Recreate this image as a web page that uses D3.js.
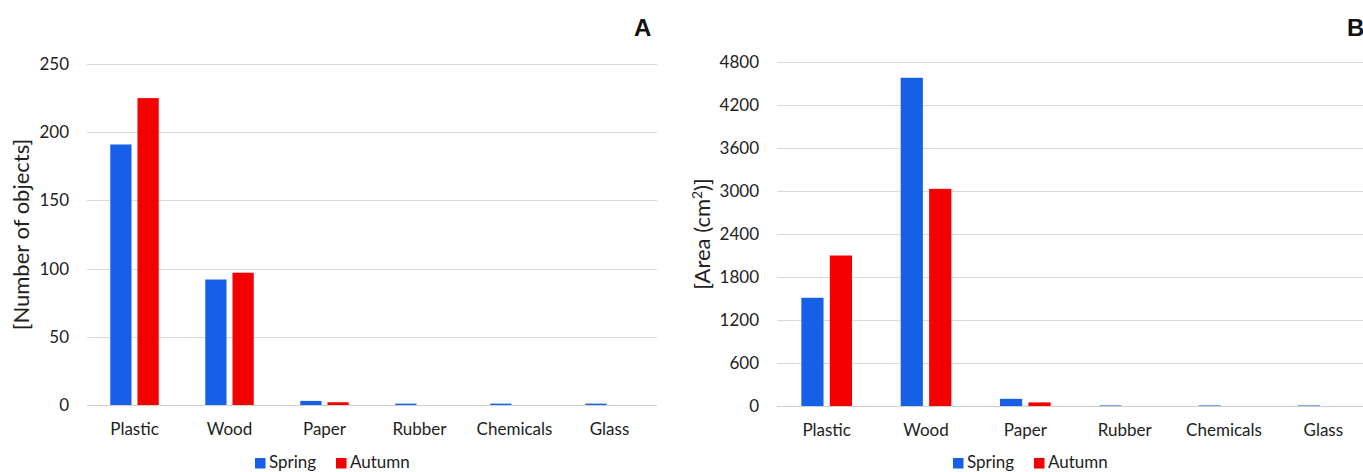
<!DOCTYPE html>
<html>
<head>
<meta charset="utf-8">
<script src="https://cdn.jsdelivr.net/npm/d3@7"></script>
<style>
  html, body { margin: 0; padding: 0; background: #fff; }
  svg { display: block; font-family: Lato, "Open Sans", sans-serif; }
</style>
</head>
<body>
<svg id="chart" width="1363" height="472"></svg>
<script>
// Litter categories and seasonal sampling campaigns
const categories = ["Plastic", "Wood", "Paper", "Rubber", "Chemicals", "Glass"];
const seasons = ["Spring", "Autumn"];
const seasonColors = ["#1560E6", "#F40000"];

// Panel A: number of objects
const countSpring = [191, 92, 3, 1, 1, 1];
const countAutumn = [225, 97, 2, 0, 0, 0];
const countTicks = [0, 50, 100, 150, 200, 250];

// Panel B: area in cm²
const areaSpring = [1510, 4580, 100, 8, 8, 8];
const areaAutumn = [2100, 3030, 50, 0, 0, 0];
const areaTicks = [0, 600, 1200, 1800, 2400, 3000, 3600, 4200, 4800];

const svg = d3.select("#chart");

function panel(opts) {
  const { x0, x1, yTop, yBottom, springVals, autumnVals, ticks, yMax,
          title, titleX, letter, letterX, legendX } = opts;

  const g = svg.append("g");
  const x = d3.scaleBand().domain(categories).range([x0, x1]).paddingInner(0).paddingOuter(0);
  const y = d3.scaleLinear().domain([0, yMax]).range([yBottom, yTop]);

  // horizontal gridlines
  g.append("g").selectAll("line").data(ticks).join("line")
    .attr("x1", x0).attr("x2", x1)
    .attr("y1", d => Math.round(y(d)) + 0.5).attr("y2", d => Math.round(y(d)) + 0.5)
    .attr("stroke", d => d === 0 ? "#cfcfcf" : "#d9d9d9")
    .attr("stroke-width", 1.2);

  // y axis tick labels
  const yAxis = d3.axisLeft(y).tickValues(ticks).tickFormat(d3.format("d"))
    .tickSize(0).tickPadding(0);
  const ya = g.append("g").attr("transform", `translate(${x0 - 18},0)`).call(yAxis);
  ya.select(".domain").remove();
  ya.selectAll("text").attr("font-size", 17).attr("fill", "#222")
    .attr("font-family", "Lato, sans-serif");

  // x axis category labels
  const xAxis = d3.axisBottom(x).tickSize(0).tickPadding(0);
  const xa = g.append("g").attr("transform", `translate(0,${yBottom + 18})`).call(xAxis);
  xa.select(".domain").remove();
  xa.selectAll("text").attr("font-size", 17).attr("fill", "#222")
    .attr("font-family", "Lato, sans-serif");

  // grouped bars
  const bw = x.bandwidth();
  const groupW = bw * 0.51;
  const xs = d3.scaleBand().domain(seasons)
    .range([(bw - groupW) / 2, (bw + groupW) / 2]).paddingInner(0.22);
  const rows = categories.map((c, i) => ({ c, v: [springVals[i], autumnVals[i]] }));
  const groups = g.append("g").selectAll("g").data(rows).join("g")
    .attr("transform", d => `translate(${x(d.c)},0)`);
  groups.selectAll("rect").data(d => d.v.map((v, k) => ({ s: seasons[k], v, k })))
    .join("rect")
    .attr("x", d => xs(d.s))
    .attr("width", xs.bandwidth())
    .attr("y", d => y(d.v))
    .attr("height", d => y(0) - y(d.v))
    .attr("fill", d => seasonColors[d.k]);

  // y axis title
  g.append("text")
    .attr("transform", `translate(${titleX},${(yTop + yBottom) / 2}) rotate(-90)`)
    .attr("text-anchor", "middle")
    .attr("font-size", 22)
    .attr("fill", "#222")
    .html(title);

  // panel letter
  g.append("text").attr("x", letterX).attr("y", 36)
    .attr("font-family", "Liberation Sans, Arial, sans-serif")
    .attr("font-weight", "bold").attr("font-size", 24).attr("fill", "#111")
    .text(letter);

  // legend
  const lg = g.append("g").attr("transform", `translate(${legendX},0)`);
  const items = [{ s: "Spring", dx: 0 }, { s: "Autumn", dx: 81 }];
  items.forEach((it, k) => {
    lg.append("rect").attr("x", it.dx).attr("y", 458).attr("width", 10.5).attr("height", 10.5)
      .attr("fill", seasonColors[k]);
    lg.append("text").attr("x", it.dx + 14).attr("y", 468)
      .attr("font-size", 17).attr("fill", "#222").text(it.s);
  });
}

panel({
  x0: 87, x1: 657, yTop: 64, yBottom: 405,
  springVals: countSpring, autumnVals: countAutumn, ticks: countTicks, yMax: 250,
  title: "[Number of objects]", titleX: 29, letter: "A", letterX: 634, legendX: 255
});

panel({
  x0: 777, x1: 1373, yTop: 62, yBottom: 406,
  springVals: areaSpring, autumnVals: areaAutumn, ticks: areaTicks, yMax: 4800,
  title: "[Area (cm<tspan dy=\"-8\" font-size=\"14\">2</tspan><tspan dy=\"8\">)]</tspan>",
  titleX: 710, letter: "B", letterX: 1347, legendX: 953
});
</script>
</body>
</html>
